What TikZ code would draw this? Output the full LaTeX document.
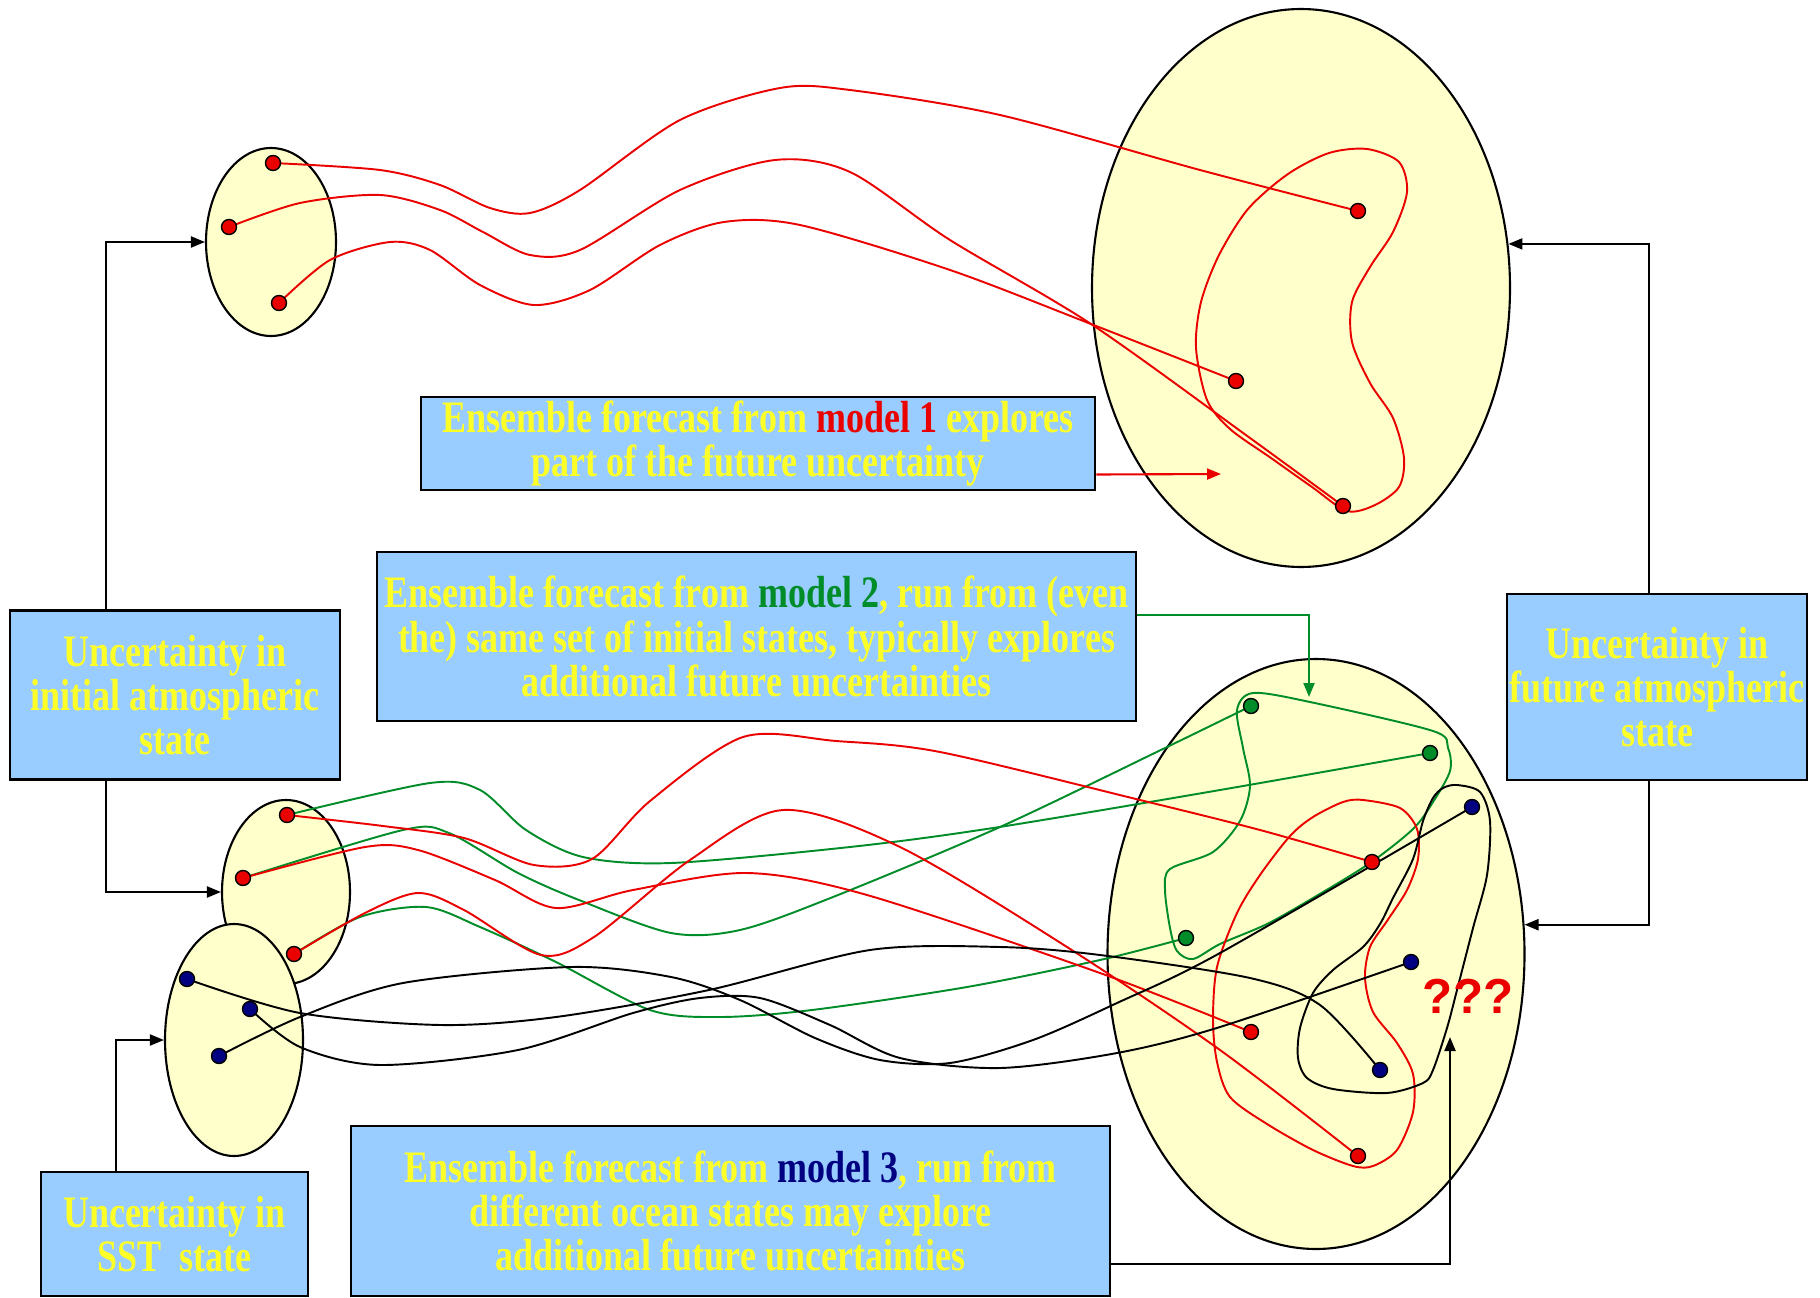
\documentclass[tikz,border=0pt]{standalone}
\usepackage{fontspec}
\usepackage{xcolor}
\usepackage{tikz}
\usetikzlibrary{shapes.geometric, arrows.meta, positioning}

\newfontfamily\boxfont{Liberation Serif}[FakeStretch=0.8]
\newfontfamily\markfont{Liberation Sans}

\definecolor{boxblue}{RGB}{153,204,255}
\definecolor{paleyellow}{RGB}{255,255,204}
\definecolor{txtyellow}{RGB}{255,255,40}
\definecolor{mred}{RGB}{235,0,0}
\definecolor{mgreen}{RGB}{0,140,40}
\definecolor{mblue}{RGB}{0,0,128}

\begin{document}
\begin{tikzpicture}[x=0.1mm, y=-0.1mm,
  infobox/.style={draw=black, line width=0.8pt, fill=boxblue, text=txtyellow, align=center, inner sep=0,
    font=\boxfont\bfseries\fontsize{12.8}{12.6}\selectfont},
  spread/.style={ellipse, draw=black, line width=0.6pt, fill=paleyellow, inner sep=0},
  member/.style={circle, draw=black, line width=0.4pt, inner sep=0, minimum size=1.5mm, fill=#1},
  conn/.style={line width=0.6pt, -{Triangle[length=1.4mm, width=1.1mm]}},
  traj/.style={line width=0.55pt}]
\useasboundingbox (0,0) rectangle (1820,1298);

% Spreads of states
\node[spread, minimum width=13mm, minimum height=18.8mm] (initA) at (271,242) {};
\node[spread, minimum width=41.8mm, minimum height=55.8mm] (futA) at (1301,288) {};
\node[spread, minimum width=12.8mm, minimum height=18.4mm] (initB) at (286,892) {};
\node[spread, minimum width=13.8mm, minimum height=23.2mm] (sst) at (234,1040) {};
\node[spread, minimum width=41.7mm, minimum height=59mm] (futB) at (1316,954) {};

% Ensemble members
\coordinate (init1) at (273,163);
\coordinate (init2) at (229,227);
\coordinate (init3) at (279,303);
\coordinate (end1) at (1358,211);
\coordinate (end2) at (1236,381);
\coordinate (end3) at (1343,506);
\coordinate (atm1) at (287,815);
\coordinate (atm2) at (243,878);
\coordinate (atm3) at (294,954);
\coordinate (sst1) at (187,979);
\coordinate (sst2) at (250,1009);
\coordinate (sst3) at (219,1056);
\coordinate (red1) at (1372,862);
\coordinate (red2) at (1251,1032);
\coordinate (red3) at (1358,1156);
\coordinate (grn1) at (1251,706);
\coordinate (grn2) at (1430,753);
\coordinate (grn3) at (1186,938);
\coordinate (blu1) at (1472,807);
\coordinate (blu2) at (1411,962);
\coordinate (blu3) at (1380,1070);

% Explored regions
\draw[traj, mred] plot[smooth cycle] coordinates {(1367,149) (1399,162) (1407,192) (1393,232) (1370,267) (1352,302) (1352,342) (1370,383) (1393,418) (1404,458) (1399,487) (1375,505) (1347,511) (1312,487) (1271,458) (1230,429) (1207,400) (1196,348) (1201,302) (1219,255) (1248,209) (1288,174) (1329,153)};
\draw[traj, mgreen] plot[smooth cycle] coordinates {(1253,693) (1310,702) (1433,731) (1448,748) (1450,771) (1433,802) (1413,829) (1370,863) (1313,898) (1267,924) (1220,944) (1193,959) (1177,951) (1170,928) (1165,890) (1170,869) (1213,852) (1240,821) (1250,786) (1243,748) (1237,710)};
\draw[traj, mred] plot[smooth cycle] coordinates {(1363,800) (1400,808) (1417,829) (1418,859) (1407,890) (1387,921) (1370,947) (1365,978) (1373,1012) (1397,1043) (1413,1074) (1413,1112) (1397,1150) (1373,1166) (1353,1166) (1313,1150) (1267,1124) (1230,1097) (1217,1062) (1213,1020) (1217,967) (1237,913) (1260,875) (1290,836) (1313,817) (1343,802)};
\draw[traj, black] plot[smooth cycle] coordinates {(1443,788) (1457,785) (1480,792) (1490,821) (1487,875) (1473,928) (1457,990) (1447,1028) (1433,1070) (1423,1083) (1387,1093) (1333,1089) (1307,1078) (1298,1058) (1300,1028) (1313,993) (1333,970) (1363,947) (1380,924) (1393,898) (1413,859) (1423,821) (1433,798)};

% Model 1 trajectories
\draw[traj, mred] plot[smooth] coordinates {(init1) (380,170) (440,185) (490,208) (530,213) (580,190) (680,120) (780,88) (850,90) (1000,115) (1200,170) (end1)};
\draw[traj, mred] plot[smooth] coordinates {(init2) (300,203) (380,195) (440,210) (483,232) (530,255) (580,250) (680,190) (775,160) (850,172) (950,240) (1091,324) (1250,438) (end3)};
\draw[traj, mred] plot[smooth] coordinates {(init3) (330,260) (390,242) (430,250) (480,285) (534,305) (590,290) (660,245) (724,222) (800,225) (950,270) (1091,324) (end2)};

% Model 2 trajectories
\draw[traj, mgreen] plot[smooth] coordinates {(atm1) (430,783) (480,790) (526,830) (583,857) (671,863) (850,847) (993,828) (1220,790) (grn2)};
\draw[traj, mgreen] plot[smooth] coordinates {(atm2) (403,830) (449,833) (518,873) (579,900) (671,933) (740,930) (833,897) (1000,827) (1167,747) (grn1)};
\draw[traj, mgreen] plot[smooth] coordinates {(atm3) (360,917) (426,907) (480,927) (556,962) (650,1010) (720,1017) (812,1010) (967,987) (1100,960) (grn3)};

% Model 1 trajectories, lower set
\draw[traj, mred] plot[smooth] coordinates {(atm1) (383,826) (464,838) (534,865) (592,859) (650,801) (743,737) (836,741) (940,752) (1140,800) (1260,830) (red1)};
\draw[traj, mred] plot[smooth] coordinates {(atm2) (365,847) (418,850) (495,880) (556,908) (633,890) (747,873) (867,895) (1100,973) (red2)};
\draw[traj, mred] plot[smooth] coordinates {(atm3) (365,913) (418,893) (464,910) (541,955) (594,937) (690,860) (783,810) (900,847) (1067,947) (1220,1050) (red3)};

% Model 3 trajectories
\draw[traj, black] plot[smooth] coordinates {(sst1) (300,1013) (441,1025) (556,1017) (709,990) (870,950) (1000,947) (1100,955) (1250,978) (1320,1005) (blu3)};
\draw[traj, black] plot[smooth] coordinates {(sst2) (300,1047) (380,1065) (518,1050) (633,1013) (700,998) (760,998) (830,1025) (900,1058) (1000,1068) (1117,1053) (1220,1027) (blu2)};
\draw[traj, black] plot[smooth] coordinates {(sst3) (300,1017) (403,983) (571,967) (671,977) (740,1000) (815,1038) (880,1060) (950,1063) (1033,1040) (1117,1003) (1220,953) (blu1)};

% Dots
\foreach \p in {init1,init2,init3,end1,end2,end3,atm1,atm2,atm3,red1,red2,red3}
  \node[member=mred] at (\p) {};
\foreach \p in {grn1,grn2,grn3}
  \node[member=mgreen] at (\p) {};
\foreach \p in {sst1,sst2,sst3,blu1,blu2,blu3}
  \node[member=mblue] at (\p) {};

\node[text=mred, font=\markfont\bfseries\fontsize{14}{14}\selectfont] (unknown) at (1468,996) {???};

% Labels
\node[infobox, minimum width=33mm, minimum height=16.9mm] (initbox) at (175,695) {Uncertainty in\\initial atmospheric\\state};
\node[infobox, minimum width=30mm, minimum height=18.6mm] (futbox) at (1657,687) {Uncertainty in\\future atmospheric\\state};
\node[infobox, minimum width=26.7mm, minimum height=12.4mm] (sstbox) at (174.5,1234) {Uncertainty in\\SST\ \ state};
\node[infobox, minimum width=67.4mm, minimum height=9.3mm] (mone) at (758,443.5) {Ensemble forecast from \textcolor{mred}{model 1} explores\\part of the future uncertainty};
\node[infobox, minimum width=75.9mm, minimum height=16.9mm] (mtwo) at (756.5,636.5) {Ensemble forecast from \textcolor{mgreen}{model 2}, run from (even\\the) same set of initial states, typically explores\\additional future uncertainties};
\node[infobox, minimum width=75.9mm, minimum height=17mm] (mthree) at (730.5,1211) {Ensemble forecast from \textcolor{mblue}{model 3}, run from\\different ocean states may explore\\additional future uncertainties};

% Arrows
\coordinate (blobtip) at (1221,474);
\coordinate (greentip) at (1309,697);
\coordinate (asktip) at (1450,1037);
\draw[conn] ([xshift=9.7mm]initbox.north west) |- (initA.west);
\draw[conn] ([xshift=9.7mm]initbox.south west) |- (initB.west);
\draw[conn] ([xshift=7.6mm]sstbox.north west) |- (sst.west);
\draw[conn] ([xshift=-0.8mm]futbox.north) |- (futA.12.6);
\draw[conn] ([xshift=-0.8mm]futbox.south) |- (futB.8);
\draw[conn, mred] ([yshift=-3.1mm]mone.east) -- (blobtip);
\draw[conn, mgreen] ([yshift=2.15mm]mtwo.east) -| (greentip);
\draw[conn] ([yshift=-5.3mm]mthree.east) -| (asktip);
\end{tikzpicture}
\end{document}
